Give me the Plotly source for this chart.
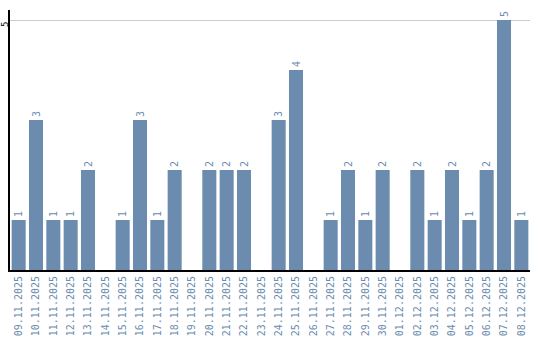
import plotly.graph_objects as go

dates = ["09.11.2025","10.11.2025","11.11.2025","12.11.2025","13.11.2025","14.11.2025",
         "15.11.2025","16.11.2025","17.11.2025","18.11.2025","19.11.2025","20.11.2025",
         "21.11.2025","22.11.2025","23.11.2025","24.11.2025","25.11.2025","26.11.2025",
         "27.11.2025","28.11.2025","29.11.2025","30.11.2025","01.12.2025","02.12.2025",
         "03.12.2025","04.12.2025","05.12.2025","06.12.2025","07.12.2025","08.12.2025"]
counts = [1,3,1,1,2,0,1,3,1,2,0,2,2,2,0,3,4,0,1,2,1,2,0,2,1,2,1,2,5,1]
labels = [str(c) if c > 0 else "" for c in counts]
y_ticks = [5]

color = "#6b8cae"
font = "DejaVu Sans Mono"

fig = go.Figure(go.Bar(
    x=dates, y=counts, text=labels, textposition="outside",
    textangle=-90, cliponaxis=False,
    textfont=dict(family=font, size=10, color=color),
    marker=dict(color=color, line=dict(width=0)),
))
for t in y_ticks:
    fig.add_annotation(x=0, xref="paper", y=t, yref="y", text=str(t),
                       textangle=-90, showarrow=False, xshift=-12, yshift=-5,
                       font=dict(family=font, size=9, color="black"))
fig.update_layout(
    width=540, height=340,
    margin=dict(l=10, r=10, t=10, b=70),
    paper_bgcolor="white", plot_bgcolor="white",
    bargap=0.19, showlegend=False,
    xaxis=dict(type="category", tickangle=-90, showline=True, linecolor="black",
               linewidth=2, ticks="", showgrid=False, automargin=False,
               tickfont=dict(family=font, size=10, color=color)),
    yaxis=dict(range=[0, 5.2], tickvals=y_ticks, showticklabels=False,
               showline=True, linecolor="black", linewidth=2, ticks="",
               gridcolor="#cccccc", gridwidth=1, zeroline=False, automargin=False),
)
fig.write_html("out.html")
